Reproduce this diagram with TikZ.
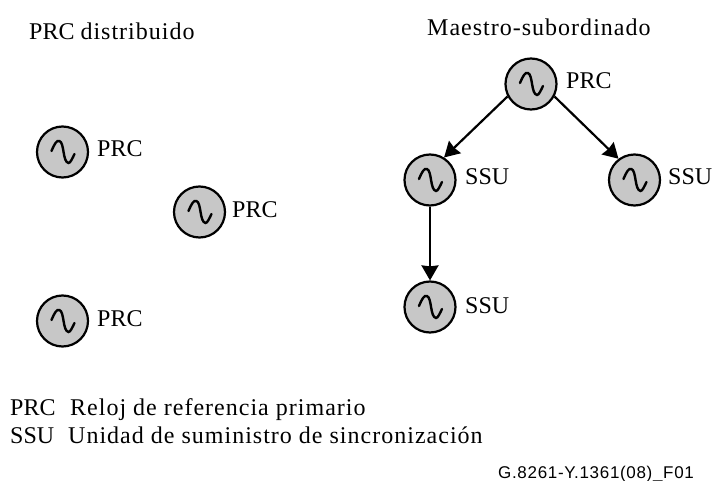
\documentclass[tikz,border=0pt]{standalone}
\usepackage{fontspec}
\setmainfont{Liberation Serif}
\newfontfamily\figfont[LetterSpace=4]{Liberation Sans}
\usetikzlibrary{arrows.meta}
\newcommand{\ls}[1]{{\addfontfeature{LetterSpace=4.2}#1}}
\tikzset{
    clock/.style={draw,circle,line width=2.2pt,fill=black!22,minimum size=51pt,inner sep=0pt},
    txt/.style={font=\fontsize{24}{28}\selectfont,inner sep=0pt,anchor=base west},
    link/.style={line width=2.2pt,-{Stealth[length=15pt,width=17pt,inset=1pt]}},
}
\newcommand{\wave}[1]{
    \begin{scope}[shift={(#1)}]
        \draw[line width=2.4pt,line cap=round](-11,-1)..controls(-8,-8)and(-6,-12)..(-3,-11)..controls(2,-9)and(0,10)..(6,11)..controls(8,11)and(10,6)..(12,2);
    \end{scope}
}
\begin{document}
\begin{tikzpicture}[x=1pt,y=-1pt]
    \useasboundingbox(0,0)rectangle(713,481);
    \node[txt](tleft)at(29,39.5){PRC \ls{distribuido}};
    \node[txt](tright)at(427,36){\ls{Maestro-subordinado}};

    \node[clock](a)at(62.5,152){};
    \node[clock](b)at(199.5,212){};
    \node[clock](c)at(62.5,321){};
    \node[clock](m)at(531,84){};
    \node[clock](s1)at(430,180){};
    \node[clock](s2)at(634.5,180){};
    \node[clock](s3)at(430,307){};
    \foreach \n in {a,b,c,m,s1,s2,s3}
        \wave{\n};

    \node[txt](la)at(97,157){PRC};
    \node[txt](lb)at(232,218){PRC};
    \node[txt](lc)at(97,327){PRC};
    \node[txt](lm)at(566,89){PRC};
    \node[txt](l1)at(465,185){SSU};
    \node[txt](l2)at(668,185){SSU};
    \node[txt](l3)at(465,314){SSU};

    \draw[link](m.208)--(s1.58);
    \draw[link](m.332)--(s2.127);
    \draw[link](s1)--(s3);

    \node[txt](k1)at(10,415){PRC};
    \node[txt](k1b)at(70,415){\ls{Reloj de referencia primario}};
    \node[txt](k2)at(10,443){SSU};
    \node[txt](k2b)at(68,443){\ls{Unidad de suministro de sincronización}};
    \node[txt,font=\fontsize{17}{20}\selectfont\figfont](fig)at(498,478){G.8261-Y.1361(08)\_F01};
\end{tikzpicture}
\end{document}
